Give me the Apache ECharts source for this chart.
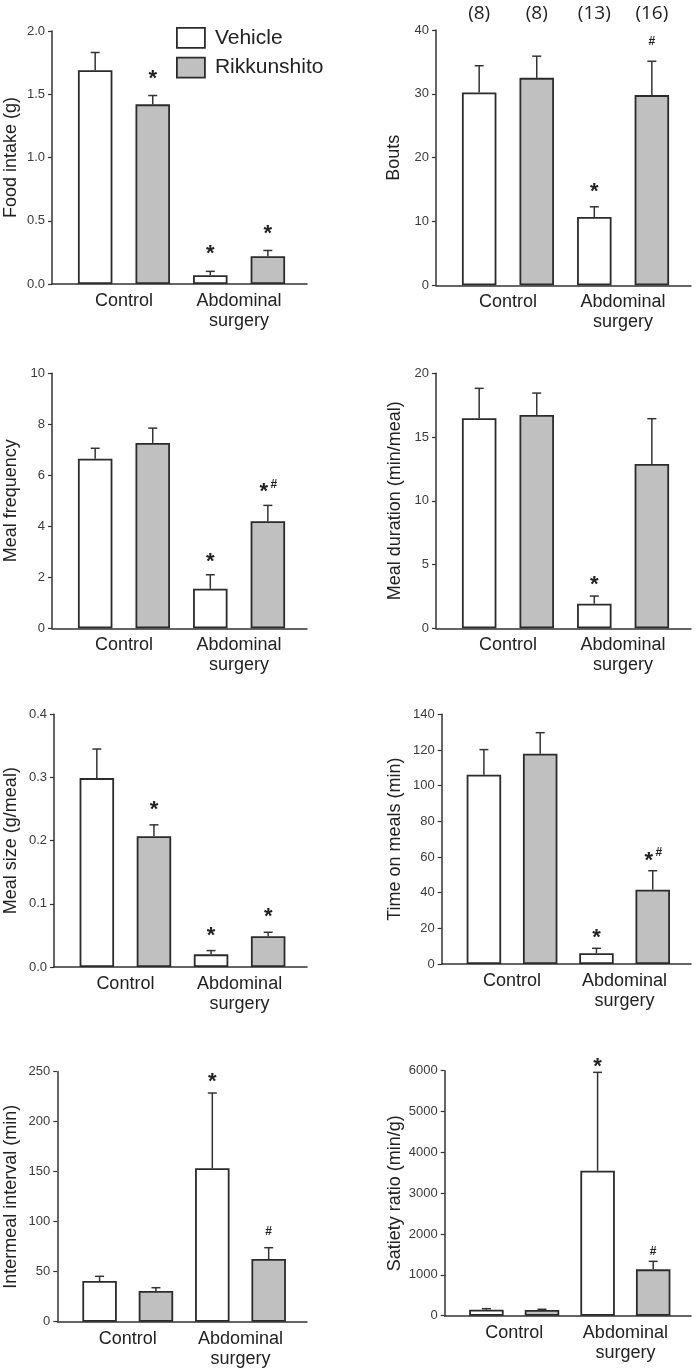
<!DOCTYPE html>
<html>
<head>
<meta charset="utf-8">
<script src="https://cdn.jsdelivr.net/npm/echarts@6/dist/echarts.min.js"></script>
<style>
html,body{margin:0;padding:0;background:#fff;}
#chart{width:696px;height:1370px;}
</style>
</head>
<body>
<div id="chart"></div>
<script>
// ---------- data ----------
const categories = ['Control', 'Abdominal\nsurgery'];
const groups = ['Vehicle', 'Rikkunshito'];
const nLabels = ['(8)', '(8)', '(13)', '(16)'];
const barPositions = [0, 1, 2, 3];          // Vehicle-Control, Rikkunshito-Control, Vehicle-Surgery, Rikkunshito-Surgery
const categoryPositions = [0.5, 2.5];

const foodIntakeMean = [1.69, 1.42, 0.07, 0.22];
const foodIntakeSem  = [0.14, 0.07, 0.03, 0.045];
const foodIntakeSig  = ['', '*', '*', '*'];

const boutsMean = [30.2, 32.5, 10.7, 29.8];
const boutsSem  = [4.2, 3.4, 1.6, 5.3];
const boutsSig  = ['', '', '*', '#'];

const mealFreqMean = [6.65, 7.27, 1.55, 4.2];
const mealFreqSem  = [0.41, 0.58, 0.55, 0.62];
const mealFreqSig  = ['', '', '*', '*#'];

const mealDurMean = [16.47, 16.73, 1.93, 12.89];
const mealDurSem  = [2.35, 1.72, 0.6, 3.55];
const mealDurSig  = ['', '', '*', ''];

const mealSizeMean = [0.299, 0.207, 0.020, 0.0486];
const mealSizeSem  = [0.046, 0.018, 0.006, 0.0064];
const mealSizeSig  = ['', '*', '*', '*'];

const timeMealsMean = [106.1, 117.9, 6.0, 41.7];
const timeMealsSem  = [14.1, 11.8, 2.8, 10.6];
const timeMealsSig  = ['', '', '*', '*#'];

const intermealMean = [40.7, 30.7, 153.4, 62.7];
const intermealSem  = [4.7, 3.3, 75.3, 11.3];
const intermealSig  = ['', '', '*', '#'];

const satietyMean = [147, 140, 3551, 1135];
const satietySem  = [25, 17, 2409, 196];
const satietySig  = ['', '', '*', '#'];

const yTitles = ['Food intake (g)', 'Bouts', 'Meal frequency', 'Meal duration (min/meal)',
                 'Meal size (g/meal)', 'Time on meals (min)', 'Intermeal interval (min)', 'Satiety ratio (min/g)'];
const yMax      = [2.0, 40, 10, 20, 0.4, 140, 250, 6000];
const yInterval = [0.5, 10, 2, 5, 0.1, 20, 50, 1000];
const yDecimals = [1, 0, 0, 0, 1, 0, 0, 0];

// ---------- layout (styles / positions) ----------
const layouts = [
  {left: 52,    width: 255,   top: 31,     height: 253,   nameGap: 32, sigGap: 22},
  {left: 436,   width: 255,   top: 30,     height: 255.3, nameGap: 33, sigGap: 20},
  {left: 52,    width: 255,   top: 373.3,  height: 255,   nameGap: 32, sigGap: 18},
  {left: 436,   width: 255,   top: 373.3,  height: 255,   nameGap: 32, sigGap: 16},
  {left: 54,    width: 253,   top: 714.3,  height: 252.7, nameGap: 34, sigGap: 20},
  {left: 441.7, width: 249.3, top: 714.3,  height: 249.7, nameGap: 38, sigGap: 15},
  {left: 57.3,  width: 249.7, top: 1071.7, height: 250,   nameGap: 37, sigGap: 16},
  {left: 444.7, width: 246.3, top: 1070.7, height: 245,   nameGap: 41, sigGap: 10}
];

const panelMeans = [foodIntakeMean, boutsMean, mealFreqMean, mealDurMean, mealSizeMean, timeMealsMean, intermealMean, satietyMean];
const panelSems  = [foodIntakeSem, boutsSem, mealFreqSem, mealDurSem, mealSizeSem, timeMealsSem, intermealSem, satietySem];
const panelSigs  = [foodIntakeSig, boutsSig, mealFreqSig, mealDurSig, mealSizeSig, timeMealsSig, intermealSig, satietySig];

const FONT = '"Liberation Sans", Arial, sans-serif';
const AXIS_COLOR = '#333';
const TEXT_COLOR = '#222';
const BAR_BORDER = '#2b2b2b';
const FILLS = ['#ffffff', '#c0c0c0'];
const X_MIN = -0.75, X_MAX = 3.68;

const grid = [], xAxis = [], yAxis = [], series = [];

layouts.forEach((L, i) => {
  grid.push({left: L.left, top: L.top, width: L.width, height: L.height, containLabel: false});
  xAxis.push({
    type: 'value', gridIndex: i, min: X_MIN, max: X_MAX,
    axisLine: {show: true, onZero: false, lineStyle: {color: AXIS_COLOR, width: 1.5}},
    axisTick: {show: false},
    splitLine: {show: false},
    axisLabel: {
      customValues: categoryPositions,
      formatter: v => categories[categoryPositions.indexOf(v)] || '',
      fontFamily: FONT, fontSize: 18, color: TEXT_COLOR, lineHeight: 20, margin: 7
    }
  });
  yAxis.push({
    type: 'value', gridIndex: i, min: 0, max: yMax[i], interval: yInterval[i],
    name: yTitles[i], nameLocation: 'middle', nameGap: L.nameGap, nameRotate: 90,
    nameTextStyle: {fontFamily: FONT, fontSize: 18, color: TEXT_COLOR},
    axisLine: {show: true, onZero: false, lineStyle: {color: AXIS_COLOR, width: 1.5}},
    axisTick: {show: true, length: 4, lineStyle: {color: AXIS_COLOR, width: 1.2}},
    splitLine: {show: false},
    axisLabel: {
      formatter: v => v.toFixed(yDecimals[i]),
      fontFamily: FONT, fontSize: 13, color: '#3a3a3a', margin: 7
    }
  });

  const means = panelMeans[i], sems = panelSems[i], sigs = panelSigs[i];
  groups.forEach((g, gi) => {
    const data = [];
    barPositions.forEach((p, k) => { if (k % 2 === gi) data.push([p, means[k]]); });
    series.push({
      type: 'bar', name: g, xAxisIndex: i, yAxisIndex: i,
      data: data, barWidth: 34.5, barGap: '-100%',
      itemStyle: {color: FILLS[gi], borderColor: BAR_BORDER, borderWidth: 1.8},
      emphasis: {disabled: true}, z: 2
    });
  });

  series.push({
    type: 'custom', xAxisIndex: i, yAxisIndex: i, z: 5, silent: true,
    data: barPositions.map((p, k) => [p, means[k], sems[k]]),
    renderItem: (params, api) => {
      const x = api.value(0), m = api.value(1), e = api.value(2);
      const p0 = api.coord([x, m]);
      const p1 = api.coord([x, m + e]);
      const st = {stroke: AXIS_COLOR, lineWidth: 1.5};
      const children = [
        {type: 'line', shape: {x1: p0[0], y1: p0[1], x2: p1[0], y2: p1[1]}, style: st},
        {type: 'line', shape: {x1: p1[0] - 4.5, y1: p1[1], x2: p1[0] + 4.5, y2: p1[1]}, style: st}
      ];
      const sig = sigs[params.dataIndex] || '';
      const hasStar = sig.indexOf('*') >= 0, hasHash = sig.indexOf('#') >= 0;
      const yC = p1[1] - L.sigGap;
      if (hasStar) {
        children.push({type: 'text', style: {
          text: '*', x: p1[0] - (hasHash ? 4 : 0), y: yC + 5,
          align: 'center', verticalAlign: 'middle',
          font: 'bold 22px ' + FONT, fill: TEXT_COLOR}});
      }
      if (hasHash) {
        children.push({type: 'text', style: {
          text: '#', x: p1[0] + (hasStar ? 6 : 0), y: hasStar ? yC - 3 : yC,
          align: 'center', verticalAlign: 'middle',
          font: 'bold 12px ' + FONT, fill: TEXT_COLOR}});
      }
      return {type: 'group', children: children};
    }
  });
});

// n labels above the Bouts panel (top axis of panel 2)
xAxis.push({
  type: 'value', gridIndex: 1, position: 'top', min: X_MIN, max: X_MAX,
  axisLine: {show: false}, axisTick: {show: false}, splitLine: {show: false},
  axisLabel: {
    customValues: barPositions,
    formatter: v => nLabels[barPositions.indexOf(v)] || '',
    fontFamily: '"Open Sans", sans-serif', fontSize: 19, color: TEXT_COLOR, margin: 7
  }
});

const chart = echarts.init(document.getElementById('chart'), null, {renderer: 'canvas'});
chart.setOption({
  animation: false,
  backgroundColor: '#ffffff',
  legend: {
    orient: 'vertical', left: 171, top: 22, itemWidth: 28, itemHeight: 20, itemGap: 8,
    icon: 'rect',
    data: groups.map((g, gi) => ({name: g, itemStyle: {color: FILLS[gi], borderColor: BAR_BORDER, borderWidth: 1.8}})),
    textStyle: {fontFamily: FONT, fontSize: 21, color: TEXT_COLOR, padding: [0, 0, 0, 5]},
    selectedMode: false
  },
  grid: grid, xAxis: xAxis, yAxis: yAxis, series: series
});
</script>
</body>
</html>
